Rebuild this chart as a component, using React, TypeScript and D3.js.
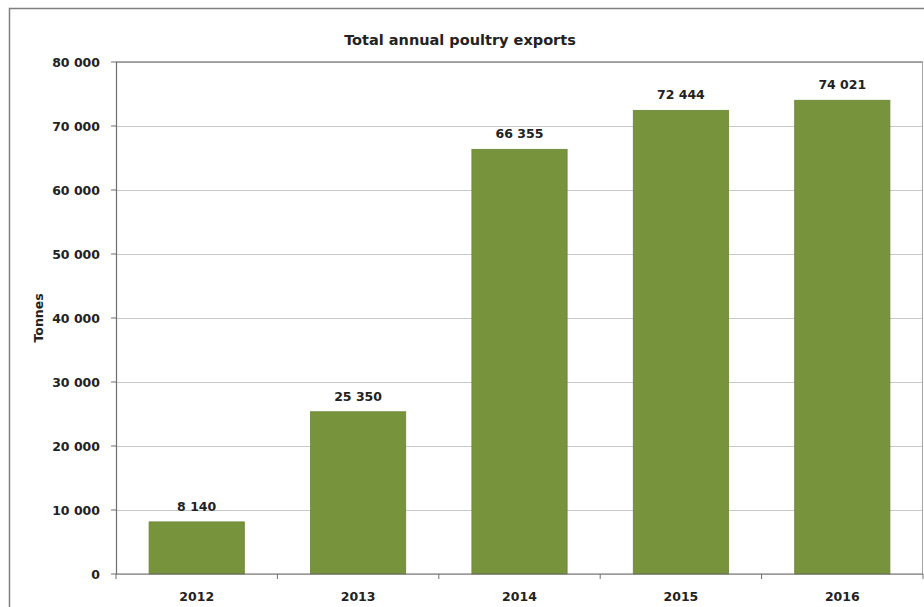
import React from "react";
import * as d3 from "d3";

const years: string[] = ["2012", "2013", "2014", "2015", "2016"];
const exportsTonnes: number[] = [8140, 25350, 66355, 72444, 74021];
const yTicks: number[] = [0, 10000, 20000, 30000, 40000, 50000, 60000, 70000, 80000];
const title = "Total annual poultry exports";
const yTitle = "Tonnes";

const W = 924;
const H = 607;
const plot = { left: 116, right: 923, top: 62, bottom: 574 };
const FONT = "'DejaVu Sans', sans-serif";
const BAR = "#77933C";

const fmt = (v: number) => d3.format(",")(v).replace(/,/g, " ");

export default function App() {
  const x = d3
    .scaleBand<string>()
    .domain(years)
    .range([plot.left, plot.right])
    .paddingInner(0.41)
    .paddingOuter(0.205);
  const y = d3.scaleLinear().domain([0, 80000]).range([plot.bottom, plot.top]);
  const step = x.step();
  const boundaries = d3.range(years.length + 1).map((i) => plot.left + i * step);

  return (
    <svg
      width={W}
      height={H}
      style={{ position: "fixed", left: 0, top: 0, background: "#fff" }}
      fontFamily={FONT}
    >
      <rect x={0} y={0} width={W} height={H} fill="#fff" />
      {/* outer chart frame */}
      <rect x={9.5} y={8.5} width={W + 10} height={H + 10} fill="none" stroke="#7f7f7f" strokeWidth={1.5} />

      {/* title */}
      <text x={460} y={45} textAnchor="middle" fontSize={14.5} fontWeight="bold" fill="#222">
        {title}
      </text>

      {/* gridlines */}
      {yTicks.map((t) => (
        <line
          key={"g" + t}
          x1={plot.left}
          x2={plot.right}
          y1={Math.round(y(t)) + 0.5}
          y2={Math.round(y(t)) + 0.5}
          stroke="#c8c8c8"
          strokeWidth={1}
        />
      ))}
      {/* plot border top & right */}
      <line x1={plot.left} x2={plot.right} y1={plot.top} y2={plot.top} stroke="#8c8c8c" strokeWidth={1.5} />
      <line x1={plot.right - 0.5} x2={plot.right - 0.5} y1={plot.top} y2={plot.bottom} stroke="#a6a6a6" strokeWidth={1} />

      {/* bars */}
      {years.map((yr, i) => (
        <rect
          key={yr}
          x={x(yr)}
          y={y(exportsTonnes[i])}
          width={x.bandwidth()}
          height={y(0) - y(exportsTonnes[i])}
          fill={BAR}
          stroke="#6b8534"
          strokeWidth={0.8}
        />
      ))}

      {/* value labels */}
      {years.map((yr, i) => (
        <text
          key={"v" + yr}
          x={(x(yr) as number) + x.bandwidth() / 2}
          y={y(exportsTonnes[i]) - 11}
          textAnchor="middle"
          fontSize={12.5}
          fontWeight="bold"
          fill="#222"
        >
          {fmt(exportsTonnes[i])}
        </text>
      ))}

      {/* y axis */}
      <line x1={plot.left + 0.5} x2={plot.left + 0.5} y1={plot.top} y2={plot.bottom} stroke="#6e6e6e" strokeWidth={1.2} />
      {yTicks.map((t) => (
        <g key={"t" + t}>
          <line x1={plot.left - 5} x2={plot.left} y1={y(t)} y2={y(t)} stroke="#6e6e6e" strokeWidth={1} />
          <text x={100} y={y(t) + 4.5} textAnchor="end" fontSize={12.5} fontWeight="bold" fill="#222">
            {fmt(t)}
          </text>
        </g>
      ))}

      {/* x axis */}
      <line x1={plot.left} x2={plot.right} y1={plot.bottom} y2={plot.bottom} stroke="#6e6e6e" strokeWidth={1.2} />
      {boundaries.map((bx, i) => (
        <line key={"xt" + i} x1={bx} x2={bx} y1={plot.bottom} y2={plot.bottom + 5} stroke="#6e6e6e" strokeWidth={1} />
      ))}
      {years.map((yr) => (
        <text
          key={"x" + yr}
          x={(x(yr) as number) + x.bandwidth() / 2}
          y={601}
          textAnchor="middle"
          fontSize={12.5}
          fontWeight="bold"
          fill="#222"
        >
          {yr}
        </text>
      ))}

      {/* y title */}
      <text
        transform={`translate(43, ${318}) rotate(-90)`}
        textAnchor="middle"
        fontSize={12.5}
        fontWeight="bold"
        fill="#222"
      >
        {yTitle}
      </text>
    </svg>
  );
}
